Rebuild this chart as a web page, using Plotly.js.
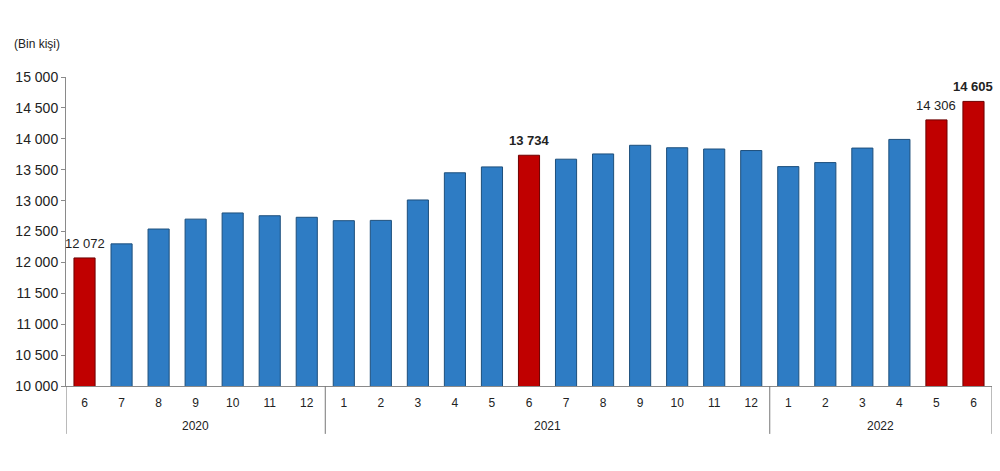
<!DOCTYPE html>
<html>
<head>
<meta charset="utf-8">
<script src="https://cdn.plot.ly/plotly-3.0.1.min.js"></script>
<style>
  html, body { margin: 0; padding: 0; background: #fff; }
  #plot { width: 1000px; height: 471px; }
</style>
</head>
<body>
<div id="plot"></div>
<script>
// year / month of each bar
const years = ['2020','2020','2020','2020','2020','2020','2020',
  '2021','2021','2021','2021','2021','2021','2021','2021','2021','2021','2021','2021',
  '2022','2022','2022','2022','2022','2022'];
const months = ['6','7','8','9','10','11','12',
  '1','2','3','4','5','6','7','8','9','10','11','12',
  '1','2','3','4','5','6'];
// employed persons, thousand
const values = [12072, 12300, 12540, 12700, 12800, 12755, 12730,
  12675, 12680, 13010, 13450, 13545, 13734, 13670, 13755, 13895, 13855, 13835, 13810,
  13550, 13615, 13850, 13990, 14306, 14605];
// bars drawn red and labelled
const highlight = [1,0,0,0,0,0,0, 0,0,0,0,0,1,0,0,0,0,0,0, 0,0,0,0,1,1];
const boldLabel = [0,0,0,0,0,0,0, 0,0,0,0,0,1,0,0,0,0,0,0, 0,0,0,0,0,1];

const fmt = v => String(v).replace(/\B(?=(\d{3})+(?!\d))/g, ' ');

const keys = years.map((y, i) => y + '-' + months[i]);
const barColors = highlight.map(h => h ? '#C00000' : '#2E7CC4');
const lineColors = highlight.map(h => h ? '#6e0000' : '#1d4f7c');

const bars = {
  type: 'bar',
  x: keys,
  y: values,
  marker: { color: barColors, line: { color: lineColors, width: 1 } },
  hoverinfo: 'none'
};

const annotations = [];
const shapes = [];

// value labels above the red bars
values.forEach((v, i) => {
  if (!highlight[i]) return;
  annotations.push({
    x: keys[i], y: v, xref: 'x', yref: 'y',
    text: boldLabel[i] ? '<b>' + fmt(v) + '</b>' : fmt(v),
    showarrow: false, yanchor: 'bottom', yshift: 5,
    font: { size: 13, color: '#222' }
  });
});

// year groups: label in the middle, dividers at the edges
const groups = [];
years.forEach((y, i) => {
  const g = groups[groups.length - 1];
  if (g && g.year === y) g.end = i;
  else groups.push({ year: y, start: i, end: i });
});
const divider = x => ({
  type: 'line', xref: 'x', yref: 'paper',
  x0: x, x1: x, y0: 0, y1: -0.155,
  line: { color: '#777', width: 1 }
});
groups.forEach((g, k) => {
  annotations.push({
    x: (g.start + g.end) / 2, y: -0.129, xref: 'x', yref: 'paper',
    text: g.year, showarrow: false, yanchor: 'middle',
    font: { size: 12, color: '#222' }
  });
  if (k === 0) shapes.push(divider(g.start - 0.5));
  shapes.push(divider(g.end + 0.5));
});

annotations.push({
  text: '(Bin kişi)', xref: 'paper', yref: 'paper',
  x: -0.058, y: 1.107, xanchor: 'left', yanchor: 'middle',
  showarrow: false, font: { size: 12, color: '#222' }
});

const layout = {
  width: 1000, height: 471,
  margin: { l: 66, r: 8, t: 77, b: 85 },
  paper_bgcolor: '#fff', plot_bgcolor: '#fff',
  font: { family: 'Arial, "Liberation Sans", sans-serif', color: '#222' },
  separators: '. ',
  bargap: 0.43,
  showlegend: false,
  xaxis: {
    type: 'category',
    range: [-0.5, keys.length - 0.5],
    tickmode: 'array', tickvals: keys, ticktext: months,
    showline: true, linecolor: '#8a8a8a', linewidth: 1,
    showgrid: false, zeroline: false,
    ticks: 'outside', ticklen: 6, tickcolor: 'rgba(0,0,0,0)',
    tickfont: { size: 12, color: '#222' }
  },
  yaxis: {
    range: [10000, 15000],
    dtick: 500, tick0: 10000,
    tickformat: ',d',
    showline: true, linecolor: '#8a8a8a', linewidth: 1,
    ticks: 'outside', ticklen: 4, tickcolor: '#8a8a8a',
    showgrid: false, zeroline: false,
    tickfont: { size: 14, color: '#222' }
  },
  shapes,
  annotations
};

Plotly.newPlot('plot', [bars], layout, { staticPlot: true });
</script>
</body>
</html>
